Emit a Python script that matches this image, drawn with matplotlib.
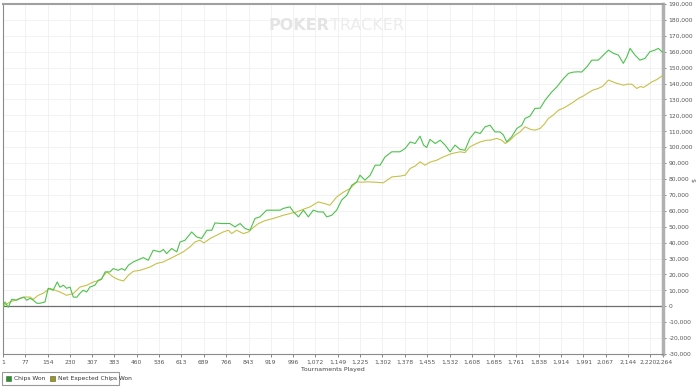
import matplotlib
matplotlib.use('Agg')
import matplotlib.pyplot as plt
import matplotlib.transforms as mtransforms
from matplotlib.ticker import FuncFormatter, FixedLocator, MultipleLocator
from matplotlib.patches import Rectangle

# Chips Won
won_t = [1, 8, 19, 31, 48, 59, 73, 82, 94, 105, 117, 128, 145, 156, 173, 187, 196, 208, 219, 231,
         242, 254, 265, 276, 288, 299, 316, 328, 339, 351, 368, 379, 396, 408, 419, 431, 448, 482,
         499, 516, 539, 551, 562, 579, 597, 608, 625, 648, 665, 682, 700, 717, 728, 751, 779, 796,
         814, 831, 848, 865, 882, 905, 928, 951, 962, 985, 997, 1014, 1031, 1048, 1065, 1082, 1099,
         1111, 1128, 1145, 1162, 1180, 1197, 1214, 1225, 1242, 1260, 1277, 1294, 1311, 1334, 1362,
         1380, 1397, 1414, 1431, 1443, 1454, 1465, 1483, 1500, 1517, 1534, 1551, 1568, 1585, 1602,
         1620, 1637, 1654, 1671, 1688, 1705, 1717, 1728, 1745, 1763, 1780, 1791, 1808, 1825, 1843,
         1860, 1883, 1900, 1923, 1940, 1957, 1974, 1985, 2003, 2020, 2042, 2060, 2077, 2094, 2111,
         2128, 2140, 2151, 2168, 2185, 2202, 2219, 2236, 2248, 2260, 2264]
won = [0, 2700, -600, 4400, 3800, 5000, 5800, 3800, 5000, 3800, 1900, 1900, 2700, 11300, 10100,
       15300, 12000, 13200, 11300, 12000, 5800, 5700, 8200, 10100, 9000, 12100, 13200, 16400, 17000,
       21600, 21600, 23700, 22600, 23700, 22600, 25800, 27900, 30600, 28900, 35200, 34200, 35700,
       33100, 36300, 34200, 40400, 41500, 46700, 43600, 42600, 47800, 47800, 52400, 52000, 52000,
       49900, 52000, 48900, 47800, 55200, 56200, 60400, 60400, 60400, 61500, 62500, 59300, 56200,
       60400, 56200, 60400, 59300, 59300, 56200, 57200, 60400, 66700, 69800, 76100, 78200, 82400,
       79300, 82400, 88700, 88700, 93900, 97100, 97100, 99200, 103300, 102300, 106900, 101300,
       99800, 104900, 102300, 104400, 101300, 97100, 101300, 98600, 98100, 105500, 109600, 108600,
       112800, 113800, 109600, 109600, 107600, 103300, 106500, 111800, 113800, 118100, 119500,
       124400, 124500, 129600, 134800, 137900, 143200, 146400, 147200, 147400, 147200, 150500,
       154700, 154700, 157900, 161000, 159000, 157900, 152700, 156800, 162100, 157900, 154700,
       155800, 160000, 161000, 162100, 160000, 159800]

# Net Expected Chips Won
exp_t = [1, 25, 48, 76, 94, 105, 122, 139, 162, 179, 196, 219, 242, 265, 288, 311, 334, 357, 379,
         396, 414, 431, 448, 471, 505, 528, 551, 574, 597, 619, 642, 659, 676, 690, 711, 734, 756,
         774, 785, 802, 825, 842, 859, 877, 899, 928, 962, 985, 1008, 1031, 1054, 1082, 1105, 1122,
         1145, 1168, 1191, 1214, 1232, 1253, 1277, 1305, 1334, 1362, 1380, 1397, 1414, 1431, 1448,
         1465, 1488, 1511, 1540, 1568, 1585, 1602, 1620, 1637, 1660, 1671, 1694, 1711, 1723, 1740,
         1757, 1774, 1791, 1808, 1825, 1843, 1857, 1871, 1887, 1906, 1922, 1940, 1956, 1974, 1990,
         2008, 2024, 2042, 2058, 2077, 2090, 2106, 2129, 2141, 2157, 2174, 2186, 2197, 2210, 2226,
         2243, 2260, 2264]
expected = [0, 2700, 4200, 5800, 5800, 4400, 6900, 8200, 11300, 10100, 9000, 6900, 8000, 12100,
            13200, 15300, 16400, 21600, 18400, 16800, 15900, 19500, 22000, 22600, 24700, 26900,
            27900, 30000, 32100, 34200, 37300, 40400, 41500, 39800, 42600, 44700, 46700, 47800,
            45700, 47800, 45700, 46700, 49500, 52000, 53800, 55200, 57200, 58300, 59300, 61000,
            62500, 65600, 64500, 63500, 68700, 71700, 74000, 78200, 78000, 78200, 78000, 77600,
            81300, 81800, 82400, 86600, 88100, 90800, 88700, 90600, 91800, 93900, 96000, 97100,
            96600, 100200, 101900, 103300, 104400, 104400, 105500, 104400, 102300, 104400, 107600,
            109600, 112800, 111300, 110700, 111800, 114500, 118100, 120100, 123300, 124500, 126400,
            128300, 130600, 132100, 134200, 135900, 136900, 138400, 142200, 141200, 140100, 139000,
            139600, 139600, 136900, 138100, 137600, 139000, 141100, 142500, 144700, 145000]

x_ticks = [1, 77, 154, 230, 307, 383, 460, 536, 613, 689, 766, 843, 919, 996, 1072, 1149, 1225,
           1302, 1378, 1455, 1532, 1608, 1685, 1761, 1838, 1914, 1991, 2067, 2144, 2220, 2264]

fig = plt.figure(figsize=(7, 3.87), dpi=100)
ax = fig.add_axes([3 / 700, 1 - 354 / 387, 660 / 700, 350 / 387])

ax.plot(won_t, won, color='#4cc24c', lw=0.8, label='Chips Won', zorder=4)
ax.plot(exp_t, expected, color='#c8c04a', lw=0.8, label='Net Expected Chips Won', zorder=3)
ax.axhline(0, color='#6e6e6e', lw=0.9, zorder=2.5)

ax.set_xlim(1, 2264)
ax.set_ylim(-30000, 190000)
ax.xaxis.set_major_locator(FixedLocator(x_ticks))
ax.set_xticklabels([f'{t:,}' for t in x_ticks])
ax.yaxis.set_major_locator(MultipleLocator(10000))
ax.yaxis.set_major_formatter(FuncFormatter(lambda v, p: f'{int(v):,}'))
ax.yaxis.tick_right()
ax.tick_params(axis='both', labelsize=4.3, colors='#555555', length=2, width=0.5, pad=2)
ax.tick_params(axis='y', pad=2)
ax.grid(True, color='#f0f0f0', lw=0.6, zorder=1)

# last two x labels sit very close together, nudge them apart a little
labels = ax.get_xticklabels()
labels[-2].set_transform(labels[-2].get_transform() +
                         mtransforms.ScaledTranslation(-2 / 100, 0, fig.dpi_scale_trans))
labels[-1].set_transform(labels[-1].get_transform() +
                         mtransforms.ScaledTranslation(1.5 / 100, 0, fig.dpi_scale_trans))

for side in ['left', 'bottom']:
    ax.spines[side].set_color('#8a8a8a')
    ax.spines[side].set_linewidth(0.8)
ax.spines['top'].set_color('#a0a0a0')
ax.spines['top'].set_linewidth(1.5)
ax.spines['right'].set_color('#b0b0b0')
ax.spines['right'].set_linewidth(2.5)

ax.set_xlabel('Tournaments Played', fontsize=4.5, color='#444444', labelpad=2)
fig.text(692 / 700, 1 - 180 / 387, '$', fontsize=4.5, color='#555555', rotation=-90,
         ha='center', va='center')

# watermark
fig.text(268 / 700, 1 - 25 / 387, 'POKER', fontsize=11.5, fontweight='bold', color='#e4e4e4',
         ha='left', va='center')
fig.text(330 / 700, 1 - 25 / 387, 'TRACKER', fontsize=11.5, color='#ececec', ha='left',
         va='center')

# legend box
fig.patches.append(Rectangle((2 / 700, 1 - 385 / 387), 117 / 700, 13 / 387,
                             transform=fig.transFigure, fill=True, fc='white',
                             ec='#999999', lw=0.8))
fig.patches.append(Rectangle((6 / 700, 1 - 381 / 387), 5 / 700, 5 / 387,
                             transform=fig.transFigure, fc='#1f9a1f', ec='#555555', lw=0.4))
fig.text(14 / 700, 1 - 378.5 / 387, 'Chips Won', fontsize=4.3, color='#333333', va='center')
fig.patches.append(Rectangle((50 / 700, 1 - 381 / 387), 5 / 700, 5 / 387,
                             transform=fig.transFigure, fc='#9a9a10', ec='#555555', lw=0.4))
fig.text(58 / 700, 1 - 378.5 / 387, 'Net Expected Chips Won', fontsize=4.3, color='#333333',
         va='center')

fig.savefig('out.png', dpi=100)
